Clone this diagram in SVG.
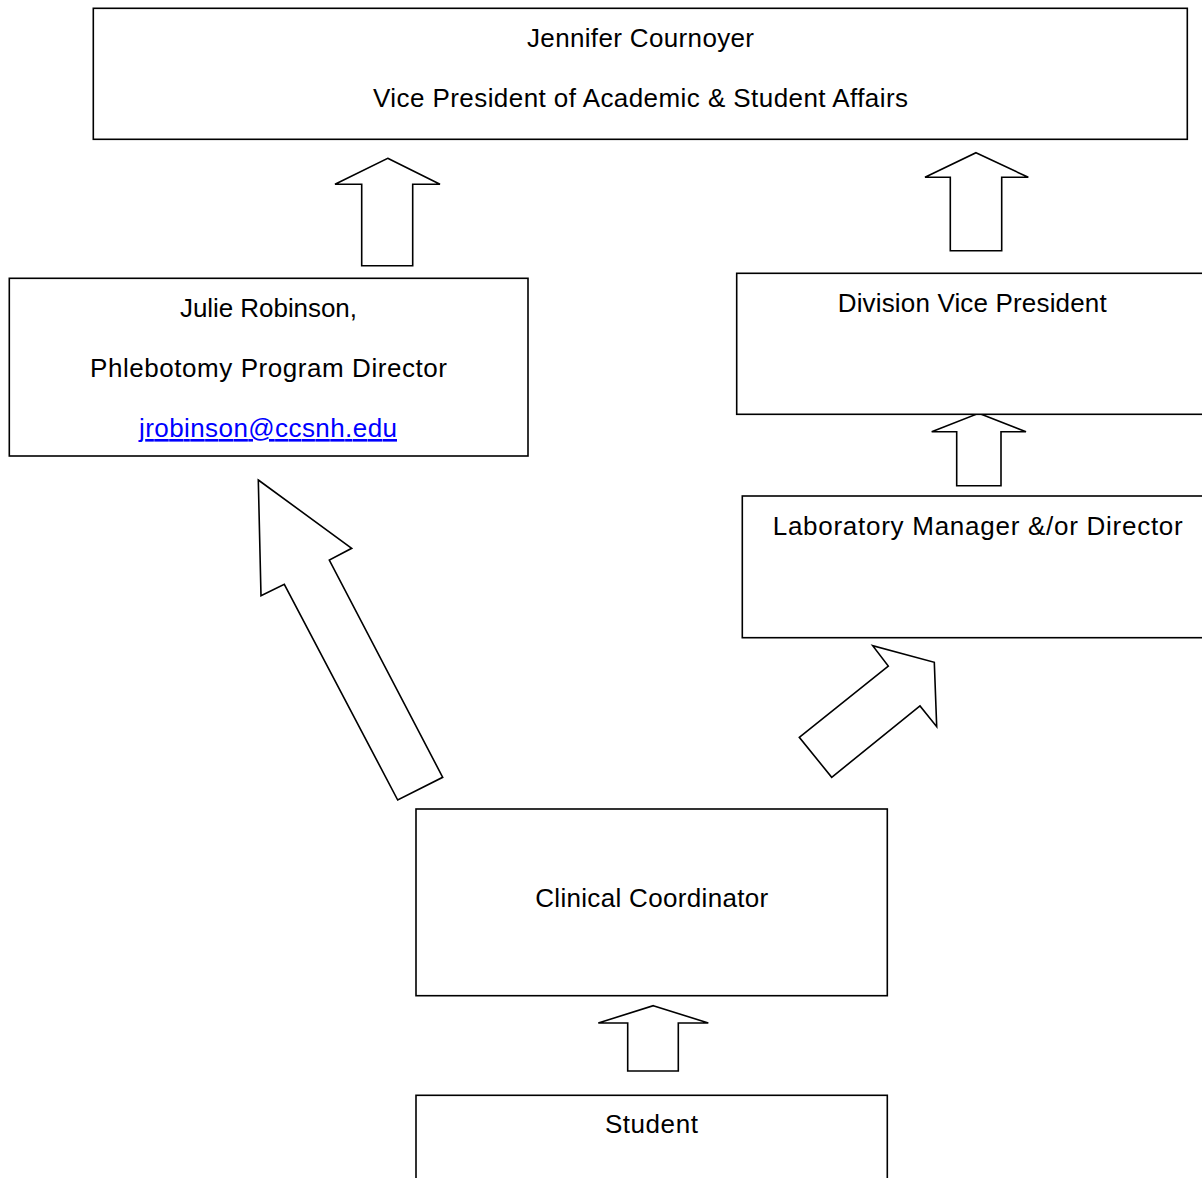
<svg xmlns="http://www.w3.org/2000/svg" width="1202" height="1178" viewBox="0 0 1202 1178">
<style>
.box{fill:#fff;stroke:#000;stroke-width:1.6}
.arr{fill:#fff;stroke:#000;stroke-width:1.6;stroke-linejoin:miter}
.t{font-family:"Liberation Sans",Arial,sans-serif;font-size:26px;fill:#000}
.link{fill:#0000ff;text-decoration:underline}
</style>
<rect width="1202" height="1178" fill="#fff"/>
<g id="connectors">
<polygon class="arr" points="387.7,158.3 440,184.3 412.7,184.3 412.7,265.7 361.7,265.7 361.7,184.3 335,184.3"/>
<polygon class="arr" points="976,152.7 1028.3,177.3 1001.7,177.3 1001.7,250.7 950.3,250.7 950.3,177.3 925,177.3"/>
<polygon class="arr" points="978.7,413.3 1026,431.7 1001,431.7 1001,485.7 956.7,485.7 956.7,431.7 931.7,431.7"/>
<polygon class="arr" points="258.3,480 351.7,548.3 329.3,560 442.7,777.3 397.7,800 284.3,584.3 261,595.7"/>
<polygon class="arr" points="934.3,662.3 936.7,726.7 920,706 831.7,777.3 799.3,737.3 888.3,666 872.7,645.7"/>
<polygon class="arr" points="653.3,1005.7 708.3,1023 678.3,1023 678.3,1071 627.7,1071 627.7,1023 598.3,1023"/>
</g>
<g id="node-vp">
<rect class="box" x="93.3" y="8.3" width="1094" height="131"/>
<text class="t" x="640.5" y="47" text-anchor="middle" textLength="227">Jennifer Cournoyer</text>
<text class="t" x="640.5" y="107" text-anchor="middle" textLength="535">Vice President of Academic &amp; Student Affairs</text>
</g>
<g id="node-julie">
<rect class="box" x="9.3" y="278.3" width="518.7" height="177.7"/>
<text class="t" x="268.5" y="317" text-anchor="middle" textLength="177">Julie Robinson,</text>
<text class="t" x="268.5" y="377" text-anchor="middle" textLength="357">Phlebotomy Program Director</text>
<text class="t link" x="268" y="437" text-anchor="middle" textLength="258">jrobinson@ccsnh.edu</text>
</g>
<g id="node-division">
<rect class="box" x="736.7" y="273.3" width="480" height="141"/>
<text class="t" x="972.2" y="311.7" text-anchor="middle" textLength="269">Division Vice President</text>
</g>
<g id="node-lab">
<rect class="box" x="742.3" y="496" width="480" height="141.7"/>
<text class="t" x="977.7" y="535" text-anchor="middle" textLength="410">Laboratory Manager &amp;/or Director</text>
</g>
<g id="node-clinical">
<rect class="box" x="416" y="809" width="471.3" height="186.7"/>
<text class="t" x="651.7" y="907.3" text-anchor="middle" textLength="233">Clinical Coordinator</text>
</g>
<g id="node-student">
<rect class="box" x="416" y="1095.3" width="471.3" height="120"/>
<text class="t" x="651.4" y="1133.3" text-anchor="middle" textLength="93">Student</text>
</g>
</svg>
